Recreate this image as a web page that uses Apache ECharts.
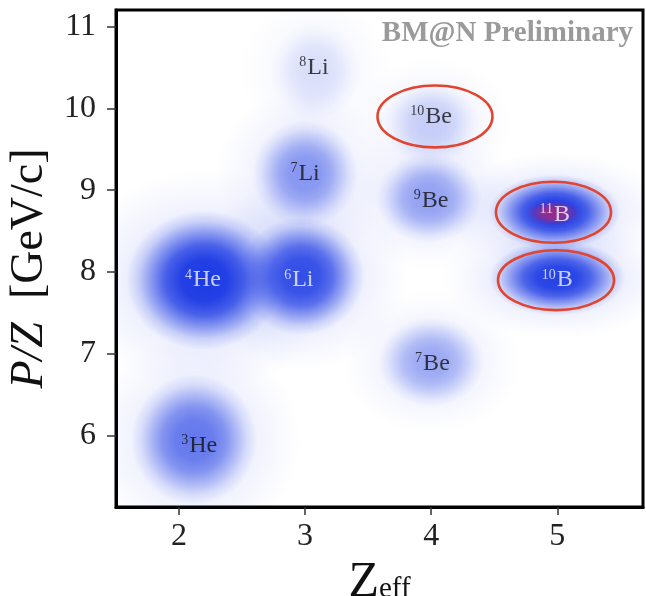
<!DOCTYPE html>
<html>
<head>
<meta charset="utf-8">
<script src="https://cdn.jsdelivr.net/npm/echarts@6/dist/echarts.min.js"></script>
<style>
  html, body { margin: 0; padding: 0; background: #fff; }
  #main { width: 646px; height: 596px; }
</style>
</head>
<body>
<div id="main"></div>
<script>
// nuclide clusters (Zeff, P/Z)
var massNumbers = [4, 6, 3, 7, 8, 10, 9, 7, 11, 10];
var elements    = ['He', 'Li', 'He', 'Li', 'Li', 'Be', 'Be', 'Be', 'B', 'B'];
var peakZ       = [2.20, 2.97, 2.12, 3.00, 3.08, 4.00, 3.98, 4.00, 4.98, 5.00];
var peakPZ      = [7.90, 7.95, 5.95, 9.20, 10.45, 9.82, 8.90, 6.90, 8.73, 7.93];
var spreadZ     = [0.62, 0.50, 0.50, 0.42, 0.36, 0.38, 0.42, 0.42, 0.52, 0.54];
var spreadPZ    = [0.85, 0.72, 0.80, 0.65, 0.60, 0.50, 0.55, 0.55, 0.46, 0.46];
var intensity   = [1.00, 0.88, 0.64, 0.48, 0.12, 0.20, 0.42, 0.38, 1.00, 0.96];
var labelZ      = [2.19, 2.95, 2.16, 3.00, 3.07, 4.00, 4.00, 4.01, 4.98, 5.00];
var labelPZ     = [7.90, 7.90, 5.88, 9.20, 10.50, 9.90, 8.87, 6.88, 8.70, 7.90];

// saturated core of 11B
var hotZ = [4.97], hotPZ = [8.72], hotSpreadZ = [0.22], hotSpreadPZ = [0.16], hotIntensity = [0.75];

// highlighted clusters (red ellipses)
var circledZ   = [4.03, 4.97, 4.99];
var circledPZ  = [9.90, 8.73, 7.90];
var circledRZ  = [0.456, 0.456, 0.46];
var circledRPZ = [0.378, 0.372, 0.366];

var xTicks = [2, 3, 4, 5];
var yTicks = [6, 7, 8, 9, 10, 11];

var serif = 'Liberation Serif';

function blobFill(p, rgb, stops) {
  return new echarts.graphic.RadialGradient(0.5, 0.5, 0.5, stops.map(function (s) {
    return { offset: s[0], color: 'rgba(' + rgb + ',' + (p * s[1]).toFixed(3) + ')' };
  }));
}
var coreStops = [[0, 1], [0.3, 0.96], [0.5, 0.78], [0.68, 0.46], [0.84, 0.17], [1, 0]];
var haloStops = [[0, 1], [0.5, 0.6], [0.8, 0.2], [1, 0]];

function blobItem(rgb, withHalo) {
  return function (params, api) {
    var c = api.coord([api.value(0), api.value(1)]);
    var s = api.size([api.value(2), api.value(3)]);
    var p = api.value(4);
    var children = [];
    if (withHalo) {
      children.push({
        type: 'circle', x: c[0], y: c[1], scaleX: s[0] * 1.7, scaleY: s[1] * 1.6,
        shape: { cx: 0, cy: 0, r: 1 },
        style: { fill: blobFill(0.16 * Math.sqrt(p), rgb, haloStops) }
      });
    }
    children.push({
      type: 'circle', x: c[0], y: c[1], scaleX: s[0], scaleY: s[1],
      shape: { cx: 0, cy: 0, r: 1 },
      style: { fill: blobFill(p, rgb, coreStops) }
    });
    return { type: 'group', silent: true, children: children };
  };
}

var blobData = [], labelData = [], hotData = [], ringData = [];
for (var i = 0; i < massNumbers.length; i++) {
  blobData.push([peakZ[i], peakPZ[i], spreadZ[i], spreadPZ[i], intensity[i]]);
  labelData.push({ value: [labelZ[i], labelPZ[i]], mass: massNumbers[i], el: elements[i], bright: intensity[i] > 0.7 });
}
for (var i = 0; i < hotZ.length; i++) {
  hotData.push([hotZ[i], hotPZ[i], hotSpreadZ[i], hotSpreadPZ[i], hotIntensity[i]]);
}
for (var i = 0; i < circledZ.length; i++) {
  ringData.push([circledZ[i], circledPZ[i], circledRZ[i], circledRPZ[i]]);
}

var chart = echarts.init(document.getElementById('main'));
var option = {
  animation: false,
  backgroundColor: '#fff',
  grid: {
    left: 116, right: 3, top: 10, bottom: 89, outerBoundsMode: 'none', containLabel: false,
    show: true, borderColor: '#000', borderWidth: 3
  },
  xAxis: {
    type: 'value', min: 1.5, max: 5.68,
    name: '{z|Z}{e|eff}', nameLocation: 'middle', nameGap: 39,
    nameTextStyle: {
      rich: {
        z: { fontFamily: serif, fontSize: 50, color: '#111', verticalAlign: 'bottom' },
        e: { fontFamily: serif, fontSize: 29, color: '#111', verticalAlign: 'bottom', padding: [0, 0, 4, 0] }
      }
    },
    axisLine: { show: true, lineStyle: { color: '#000', width: 3 } },
    axisTick: { show: true, length: 8, customValues: xTicks, lineStyle: { color: '#333', width: 1.5 } },
    axisLabel: { customValues: xTicks, fontFamily: serif, fontSize: 32, color: '#222', margin: 14 },
    splitLine: { show: false }
  },
  yAxis: {
    type: 'value', min: 5.13, max: 11.2,
    name: '{i|P/Z}{n|  [GeV/c]}', nameLocation: 'middle', nameGap: 48, nameRotate: 90,
    nameTextStyle: {
      padding: [0, 20, 0, 0],
      rich: {
        i: { fontFamily: serif, fontSize: 46, fontStyle: 'italic', color: '#111' },
        n: { fontFamily: serif, fontSize: 46, color: '#111' }
      }
    },
    axisLine: { show: true, lineStyle: { color: '#000', width: 3 } },
    axisTick: { show: true, length: 9, customValues: yTicks, lineStyle: { color: '#333', width: 1.5 } },
    axisLabel: { customValues: yTicks, fontFamily: serif, fontSize: 32, color: '#222', margin: 20 },
    splitLine: { show: false }
  },
  graphic: [{
    type: 'text', right: 13, top: 19, z: 100,
    style: { text: 'BM@N Preliminary', font: 'bold 29px "Liberation Serif"', fill: '#9a9a9a' }
  }],
  series: [
    {
      type: 'custom', name: 'clusters', coordinateSystem: 'cartesian2d', clip: true,
      renderItem: blobItem('28,58,228', true), data: blobData, z: 1
    },
    {
      type: 'custom', name: 'core', coordinateSystem: 'cartesian2d', clip: true,
      renderItem: blobItem('190,40,110', false), data: hotData, z: 2
    },
    {
      type: 'custom', name: 'selected', coordinateSystem: 'cartesian2d', clip: true, z: 3,
      renderItem: function (params, api) {
        var c = api.coord([api.value(0), api.value(1)]);
        var s = api.size([api.value(2), api.value(3)]);
        return {
          type: 'ellipse',
          shape: { cx: c[0], cy: c[1], rx: s[0], ry: s[1] },
          style: { fill: 'none', stroke: '#e2452f', lineWidth: 2.6 },
          silent: true
        };
      },
      data: ringData
    },
    {
      type: 'scatter', name: 'labels', symbolSize: 0, z: 4, silent: true,
      data: labelData,
      label: {
        show: true, position: 'inside',
        formatter: function (p) {
          var k = p.data.bright ? 'w' : 'b';
          return '{' + k + 's|' + p.data.mass + '}{' + k + '|' + p.data.el + '}';
        },
        rich: {
          bs: { fontFamily: serif, fontSize: 14, color: '#111', verticalAlign: 'top', padding: [0, 1, 8, 0] },
          b: { fontFamily: serif, fontSize: 24, color: '#111' },
          ws: { fontFamily: serif, fontSize: 14, color: '#f4f2ff', verticalAlign: 'top', padding: [0, 1, 8, 0] },
          w: { fontFamily: serif, fontSize: 24, color: '#f4f2ff' }
        }
      }
    }
  ]
};
chart.setOption(option);
</script>
</body>
</html>
